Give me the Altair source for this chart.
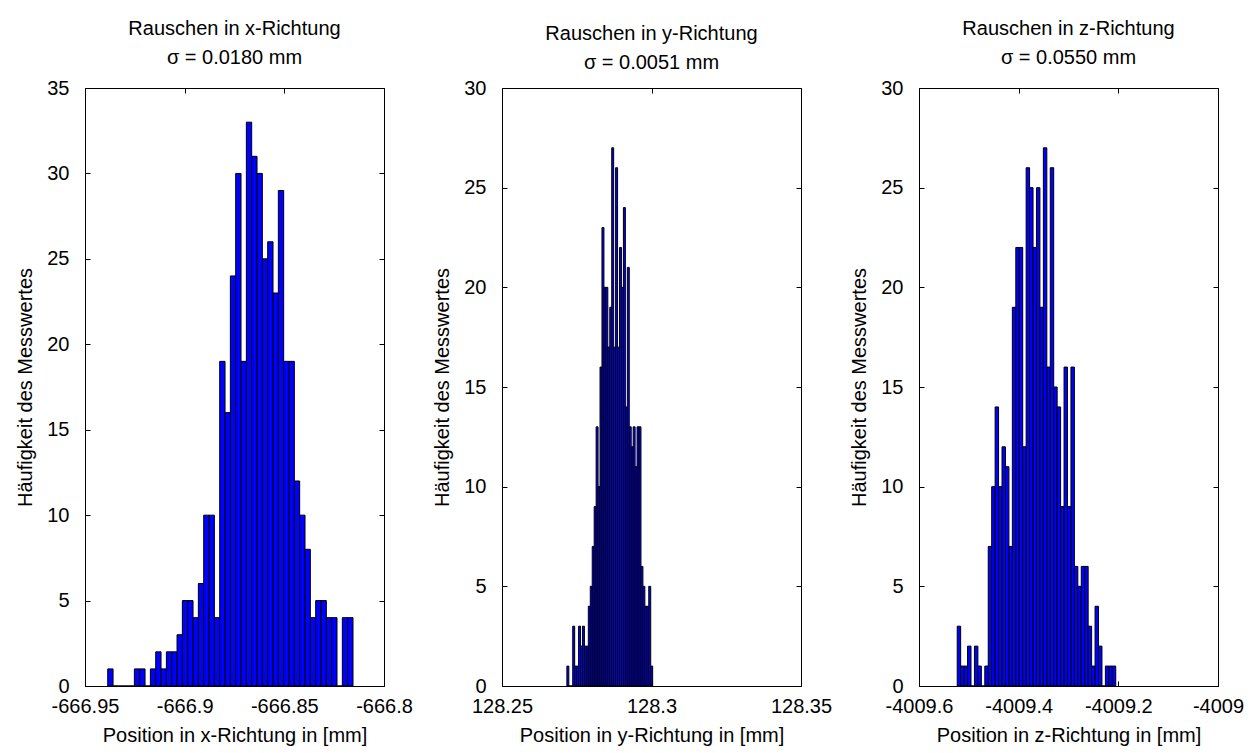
import numpy as np
import pandas as pd
import altair as alt

FONT = "Liberation Sans"

# ---- data ----
x_counts = [1, 0, 0, 0, 0, 1, 1, 0, 1, 2, 1, 2, 2, 3, 5, 5, 4, 6, 10, 10, 4, 19, 16, 24, 30,
            19, 33, 31, 30, 25, 26, 23, 29, 19, 19, 12, 10, 8, 4, 5, 5, 4, 4, 0, 4, 4]
x_bin_start = -666.9386
x_bin_width = 0.002675

y_counts = [1, 0, 0, 3, 1, 1, 3, 2, 3, 2, 2, 4, 5, 7, 9, 13, 10, 16, 23, 20, 20, 17, 19, 27,
            17, 26, 17, 22, 20, 24, 14, 21, 13, 12, 13, 11, 13, 13, 6, 5, 4, 4, 5, 1]
y_bin_start = 128.2717
y_bin_width = 0.000652

z_counts = [3, 1, 1, 2, 0, 2, 1, 0, 1, 7, 10, 14, 10, 12, 11, 7, 19, 22, 22, 12, 26, 25, 22, 25,
            19, 27, 16, 26, 15, 14, 9, 16, 9, 16, 6, 5, 6, 6, 3, 1, 4, 2, 0, 1, 1, 1]
z_bin_start = -4009.5233
z_bin_width = 0.006915

x_ticks = [-666.95, -666.9, -666.85, -666.8]
y_ticks = [128.25, 128.3, 128.35]
z_ticks = [-4009.6, -4009.4, -4009.2, -4009]

titles = [["Rauschen in x-Richtung", "σ = 0.0180 mm"],
          ["Rauschen in y-Richtung", "σ = 0.0051 mm"],
          ["Rauschen in z-Richtung", "σ = 0.0550 mm"]]
x_labels = ["Position in x-Richtung in [mm]",
            "Position in y-Richtung in [mm]",
            "Position in z-Richtung in [mm]"]
y_label = "Häufigkeit des Messwertes"

W, H = 299, 598


def hist_frame(counts, start, width):
    n = len(counts)
    edges = start + width * np.arange(n + 1)
    return pd.DataFrame({"lo": edges[:-1], "hi": edges[1:], "count": counts,
                         "zero": np.zeros(n)})


def panel(counts, start, width, xticks, ymax, title, xlabel, title_offset):
    df = hist_frame(counts, start, width)
    yticks = list(range(0, ymax + 1, 5))
    base = alt.Chart(df)
    xs = alt.Scale(domain=[xticks[0], xticks[-1]], nice=False, zero=False)
    ys = alt.Scale(domain=[0, ymax], nice=False)
    bars = base.mark_bar(fill="#0000ff", stroke="black", strokeWidth=1).encode(
        x=alt.X("lo:Q", scale=xs,
                axis=alt.Axis(orient="bottom", values=xticks, labelExpr="'' + datum.value",
                              offset=-5, tickSize=5, domain=False, grid=False,
                              labelPadding=10, titlePadding=9, title=xlabel,
                              labelFlush=False, labelOverlap=False)),
        x2="hi:Q",
        y=alt.Y("count:Q", scale=ys,
                axis=alt.Axis(orient="left", values=yticks, offset=-5, tickSize=5,
                              domain=False, grid=False, labelPadding=16, titlePadding=11,
                              title=y_label, labelFlush=False)),
        y2="zero:Q",
    )
    mirror = base.mark_bar(opacity=0).encode(
        x=alt.X("lo:Q", axis=alt.Axis(orient="top", values=xticks, offset=-5, tickSize=5,
                                      domain=False, grid=False, labels=False, title=None)),
        x2="hi:Q",
        y=alt.Y("count:Q", axis=alt.Axis(orient="right", values=yticks, offset=-5, tickSize=5,
                                         domain=False, grid=False, labels=False, title=None)),
        y2="zero:Q",
    )
    return alt.layer(bars, mirror).resolve_axis(x="independent", y="independent").properties(
        width=W, height=H,
        title=alt.TitleParams(text=title, fontSize=20, font=FONT, fontWeight="normal",
                              color="black", offset=title_offset, lineHeight=29, anchor="middle"),
    )


p1 = panel(x_counts, x_bin_start, x_bin_width, x_ticks, 35, titles[0], x_labels[0], 10)
p2 = panel(y_counts, y_bin_start, y_bin_width, y_ticks, 30, titles[1], x_labels[1], 5)
p3 = panel(z_counts, z_bin_start, z_bin_width, z_ticks, 30, titles[2], x_labels[2], 10)

chart = alt.hconcat(p1, p2, p3, spacing=118, bounds="flush").properties(
    padding={"left": 7, "top": 10, "right": 0, "bottom": 0},
    background="white",
).configure(font=FONT).configure_view(
    stroke="black", strokeWidth=1
).configure_axis(
    labelFont=FONT, titleFont=FONT, labelFontSize=20, titleFontSize=20,
    labelColor="black", titleColor="black", tickColor="black", tickWidth=1,
    titleFontWeight="normal",
)

chart.save("out.html", embed_options={"renderer": "svg", "actions": False})
